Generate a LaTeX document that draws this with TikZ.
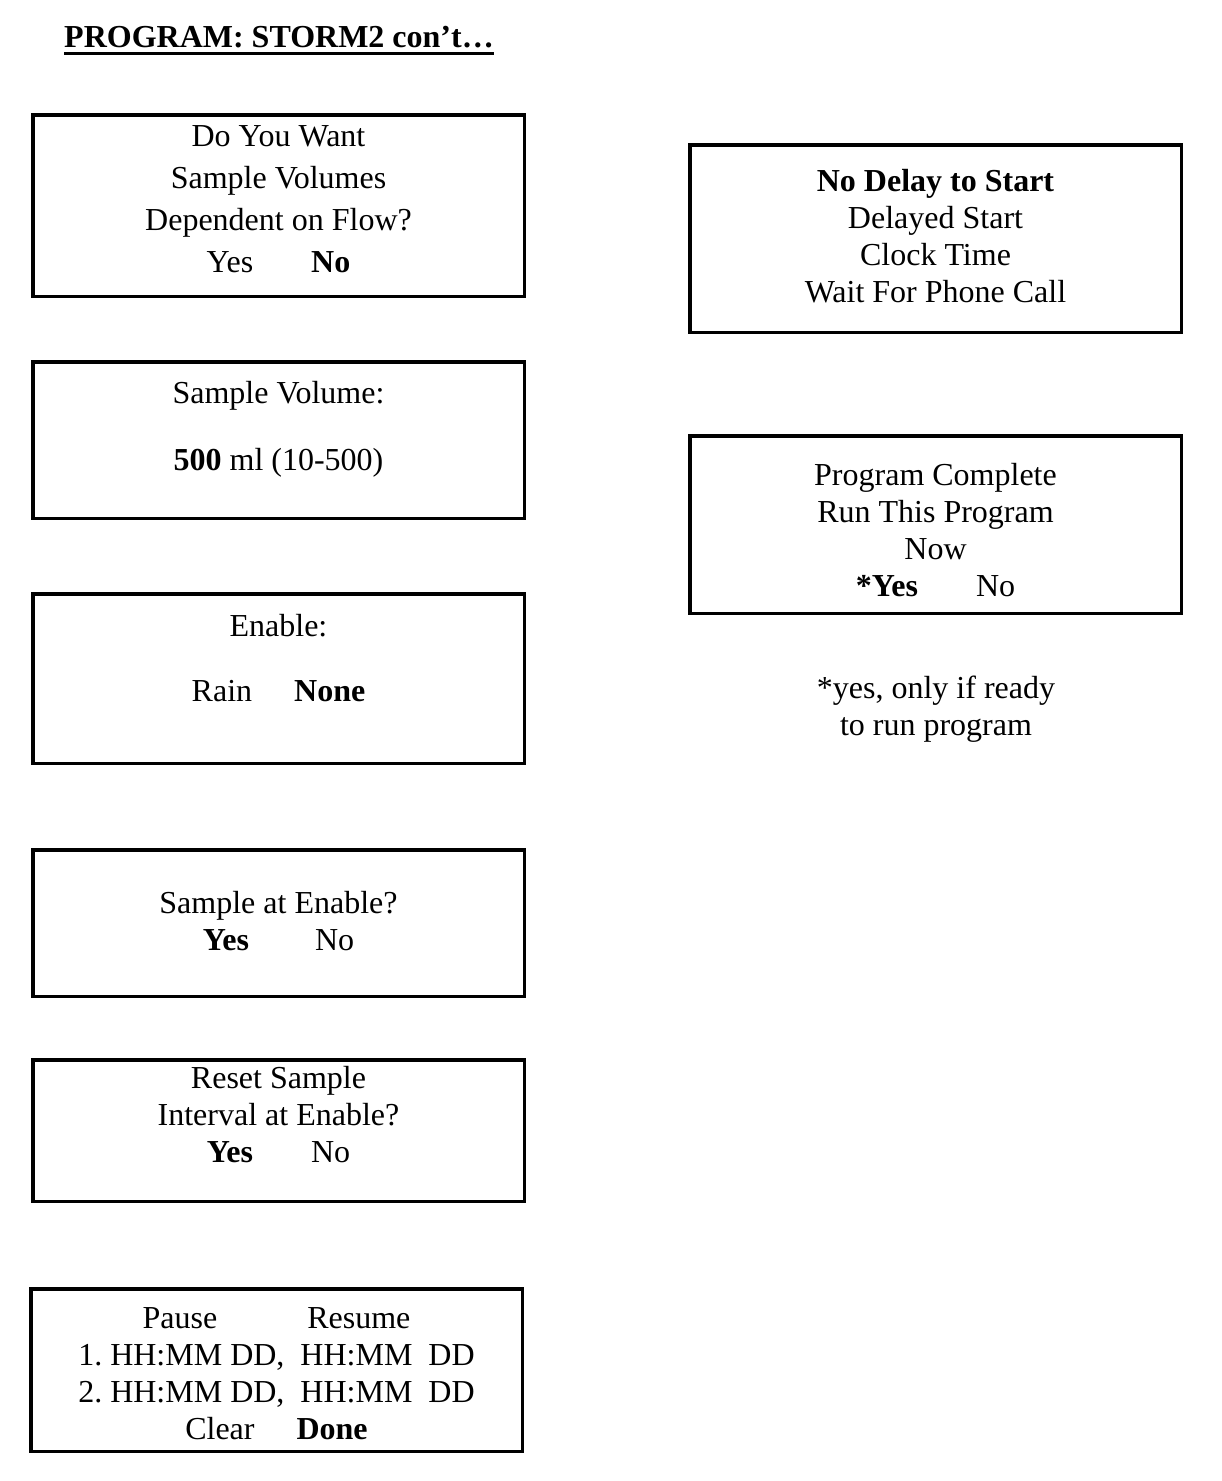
\documentclass[tikz,border=0pt]{standalone}
\usepackage{fontspec}
\setmainfont{Liberation Serif}

\begin{document}
\begin{tikzpicture}[x=1pt, y=-1pt,
  screen/.style={draw, line width=3.5pt, minimum width=491.5pt, inner sep=0pt},
  screentext/.style={align=center, inner sep=0pt, font=\fontsize{32}{37}\selectfont}]
\useasboundingbox (0,0) rectangle (1222,1481);

% Title
\node[screentext, font=\fontsize{32}{37}\selectfont\bfseries] (title) at (279,37) {PROGRAM: STORM2 con’t…};
\draw[line width=2.5pt] ([yshift=-6pt]title.base west) -- ([yshift=-6pt]title.base east);

% Left column screens
\node[screen, minimum height=181.5pt] (flowbox) at (278.5,205.5) {};
\node[screentext, font=\fontsize{32}{42}\selectfont] (flowtxt) at (278.5,199.5) {Do You Want\\Sample Volumes\\Dependent on Flow?\\Yes\hspace{58pt}\textbf{No}};

\node[screen, minimum height=156.5pt] (volbox) at (278.5,440) {};
\node[screentext] (voltxt) at (278.5,429.5) {Sample Volume:\\[30pt]\textbf{500} ml (10-500)};

\node[screen, minimum height=169.5pt] (enablebox) at (278.5,678.5) {};
\node[screentext] (enabletxt) at (278.5,658.5) {Enable:\\[28pt]Rain\hspace{42pt}\textbf{None}};

\node[screen, minimum height=146.5pt] (samplebox) at (278.5,923) {};
\node[screentext] (sampletxt) at (278.5,921.5) {Sample at Enable?\\\textbf{Yes}\hspace{66pt}No};

\node[screen, minimum height=141.5pt] (resetbox) at (278.5,1130.5) {};
\node[screentext] (resettxt) at (278.5,1115) {Reset Sample\\Interval at Enable?\\\textbf{Yes}\hspace{58pt}No};

\node[screen, minimum height=162.5pt] (pausebox) at (276.5,1370) {};
\node[screentext] (pausetxt) at (276.5,1373.5) {Pause\hspace{90pt}Resume\\1.\ HH:MM DD,\ \ HH:MM\ \ DD\\2.\ HH:MM DD,\ \ HH:MM\ \ DD\\Clear\hspace{42pt}\textbf{Done}};

% Right column screens
\node[screen, minimum height=187.5pt] (delaybox) at (935.5,238.5) {};
\node[screentext] (delaytxt) at (935.5,236) {\textbf{No Delay to Start}\\Delayed Start\\Clock Time\\Wait For Phone Call};

\node[screen, minimum height=177.5pt] (completebox) at (935.5,524.5) {};
\node[screentext] (completetxt) at (935.5,530.5) {Program Complete\\Run This Program\\Now\\\textbf{*Yes}\hspace{58pt}No};

\node[screentext] (note) at (936,709) {*yes, only if ready\\to run program};
\end{tikzpicture}
\end{document}
